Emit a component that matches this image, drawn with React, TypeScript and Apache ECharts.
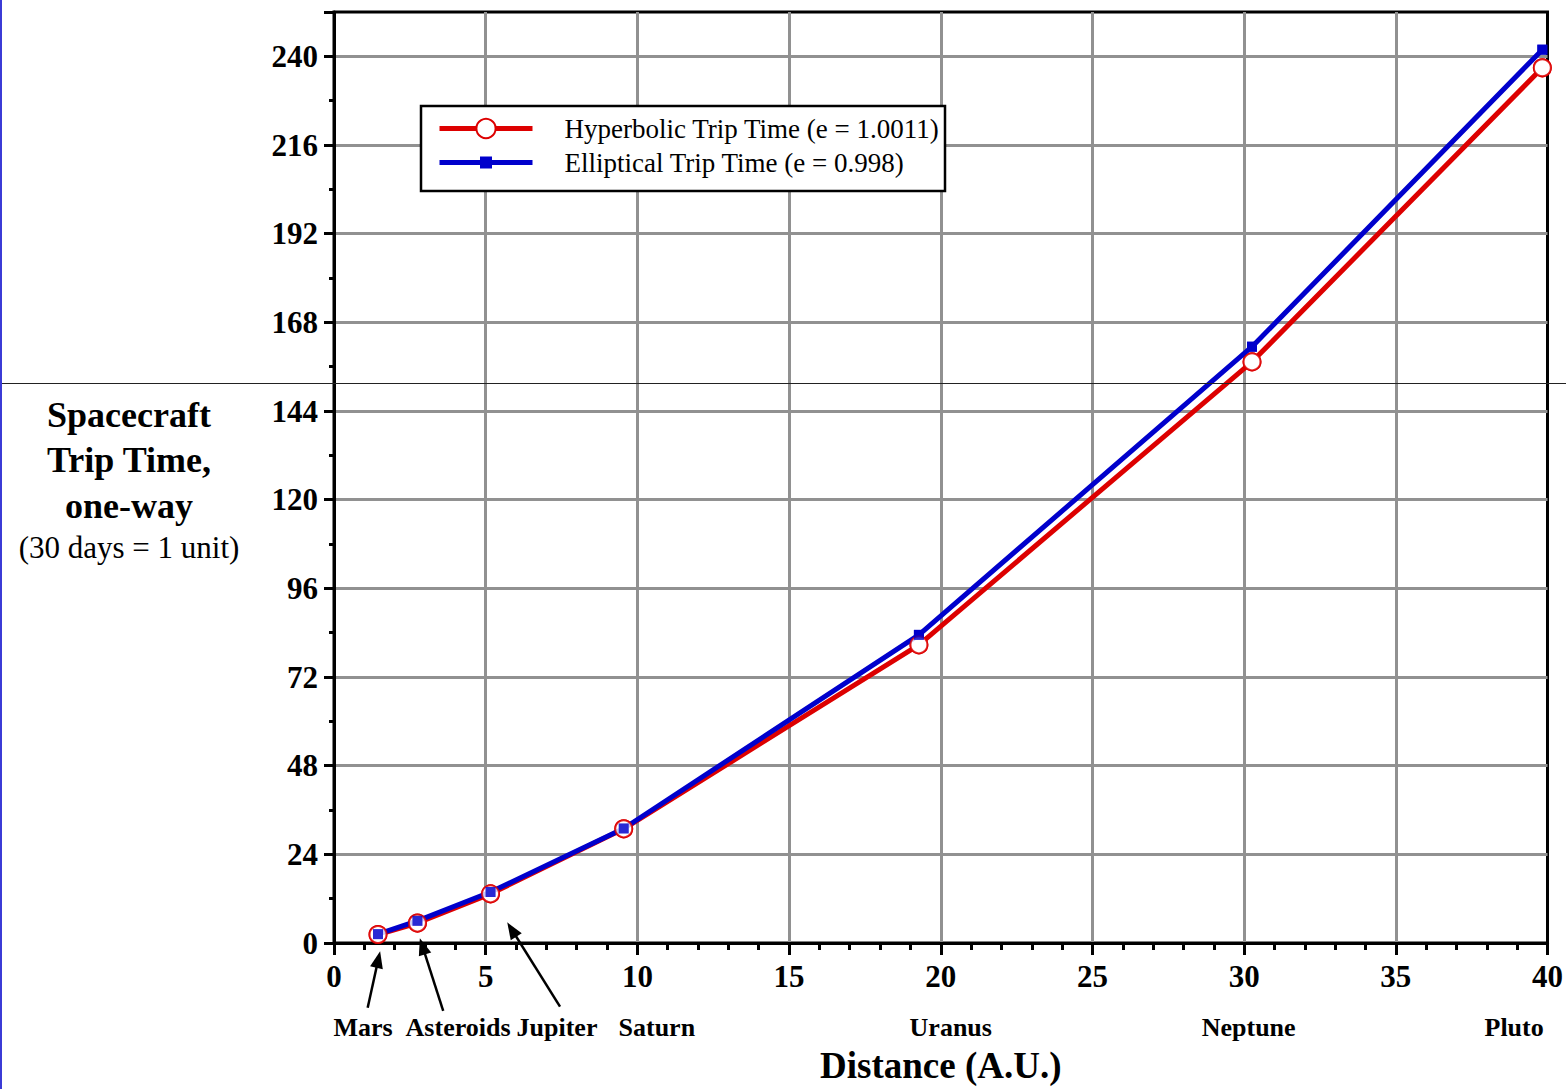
import React, { useEffect, useRef } from "react";
import * as echarts from "echarts";

// ---- data ----
const planets = ["Mars", "Asteroids", "Jupiter", "Saturn", "Uranus", "Neptune", "Pluto"];
const distanceAU = [1.45, 2.75, 5.16, 9.55, 19.28, 30.26, 39.83];
const hyperbolicTrip = [2.3, 5.4, 13.3, 30.9, 80.7, 157.3, 236.9];
const ellipticalTrip = [2.4, 6.0, 13.8, 31.0, 83.4, 161.4, 241.8];
const seriesNames = ["Hyperbolic Trip Time (e = 1.0011)", "Elliptical Trip Time (e = 0.998)"];

// axis settings
const xMin = 0;
const xMax = 40;
const xInterval = 5;
const yMin = 0;
const yMax = 252;
const yInterval = 24;
const yMinorInterval = 12;
const yLabelMax = 240;

// annotations (data coordinates)
const planetLabelX = [0.96, 4.09, 7.35, 10.64, 20.33, 30.15, 38.9];
const arrowTails = [[1.11, -17.5], [3.6, -18.4], [7.45, -17.2]];
const arrowTips = [[1.52, -2.2], [2.83, 1.3], [5.71, 5.6]];

const yTitleLines = ["Spacecraft", "Trip Time,", "one-way"];
const yTitleNote = "(30 days = 1 unit)";
const xTitle = "Distance (A.U.)";

const RED = "#dd0000";
const BLUE = "#0000cc";
const GRID_GRAY = "#919191";
const FONT = "'Liberation Serif', 'Times New Roman', serif";

export default function App() {
  const ref = useRef<HTMLDivElement>(null);

  useEffect(() => {
    document.body.style.margin = "0";
    const chart = echarts.init(ref.current as HTMLDivElement, null, { renderer: "svg" });

    const hypData = distanceAU.map((x, i) => [x, hyperbolicTrip[i]]);
    const ellData = distanceAU.map((x, i) => [x, ellipticalTrip[i]]);

    const legendText = { fontFamily: FONT, fontSize: 27, color: "#000", padding: [0, 0, 0, 27] };

    chart.setOption({
      animation: false,
      backgroundColor: "#fff",
      grid: {
        left: 334,
        right: 16,
        top: 12,
        bottom: 142,
        show: true,
        borderColor: "#000",
        borderWidth: 3,
        backgroundColor: "transparent",
      },
      legend: [
        {
          data: [seriesNames[0]],
          left: 437,
          top: 115,
          padding: 0,
          itemWidth: 93,
          itemHeight: 24,
          selectedMode: false,
          lineStyle: { width: 5 },
          textStyle: legendText,
        },
        {
          data: [seriesNames[1]],
          left: 437,
          top: 149,
          padding: 0,
          itemWidth: 93,
          itemHeight: 15,
          selectedMode: false,
          lineStyle: { width: 5 },
          textStyle: legendText,
        },
      ],
      xAxis: [
        {
          type: "value",
          min: xMin,
          max: xMax,
          interval: xInterval,
          axisLine: { show: true, onZero: false, lineStyle: { color: "#000", width: 3 } },
          axisTick: { show: true, length: 12, lineStyle: { color: "#000", width: 3 } },
          minorTick: { show: true, splitNumber: 5, length: 7, lineStyle: { color: "#000", width: 3 } },
          axisLabel: { fontFamily: FONT, fontWeight: "bold", fontSize: 31, color: "#000", margin: 18 },
          splitLine: {
            show: true,
            showMinLine: false,
            showMaxLine: false,
            lineStyle: { color: GRID_GRAY, width: 3 },
          },
          name: xTitle,
          nameLocation: "middle",
          nameGap: 104,
          nameTextStyle: { fontFamily: FONT, fontWeight: "bold", fontSize: 37, color: "#000" },
        },
      ],
      yAxis: [
        {
          type: "value",
          min: yMin,
          max: yMax,
          interval: yInterval,
          axisLine: { show: true, onZero: false, lineStyle: { color: "#000", width: 3 } },
          axisTick: { show: true, length: 10, lineStyle: { color: "#000", width: 3 } },
          axisLabel: {
            fontFamily: FONT,
            fontWeight: "bold",
            fontSize: 31,
            color: "#000",
            margin: 16,
            formatter: (v: number) => (v % yInterval === 0 && v <= yLabelMax ? String(v) : ""),
          },
          splitLine: {
            show: true,
            showMinLine: false,
            showMaxLine: false,
            lineStyle: { color: GRID_GRAY, width: 3 },
          },
        },
        {
          type: "value",
          min: yMin,
          max: yMax,
          interval: yMinorInterval,
          position: "left",
          axisLine: { show: false },
          axisTick: { show: true, length: 5, lineStyle: { color: "#000", width: 3 } },
          axisLabel: { show: false },
          splitLine: { show: false },
        },
      ],
      series: [
        {
          name: seriesNames[0],
          type: "line",
          data: hypData,
          symbol: "emptyCircle",
          symbolSize: 17,
          itemStyle: { color: RED, borderWidth: 3 },
          lineStyle: { color: RED, width: 5 },
          z: 2,
          clip: false,
        },
        {
          name: seriesNames[1],
          type: "line",
          data: ellData,
          symbol: "rect",
          symbolSize: 10,
          itemStyle: { color: BLUE },
          lineStyle: { color: BLUE, width: 5 },
          z: 3,
          clip: false,
        },
        {
          name: "hyperbolic-markers",
          type: "scatter",
          data: hypData,
          symbol: "emptyCircle",
          symbolSize: 17,
          itemStyle: { color: RED, borderWidth: 3 },
          z: 4,
          clip: false,
        },
        {
          name: "elliptical-markers",
          type: "scatter",
          data: ellData,
          symbol: "rect",
          symbolSize: 10,
          itemStyle: { color: BLUE },
          z: 5,
          clip: false,
        },
      ],
    });

    const toPx = (p: number[]) =>
      chart.convertToPixel({ xAxisIndex: 0, yAxisIndex: 0 }, p) as number[];

    const graphics: any[] = [];

    // legend box
    graphics.push({
      type: "rect",
      z: 1,
      shape: { x: 421, y: 106, width: 524, height: 85 },
      style: { fill: "#fff", stroke: "#000", lineWidth: 2.5 },
    });

    // y-axis title block
    const titleY = [415, 460, 506];
    yTitleLines.forEach((t, i) => {
      graphics.push({
        type: "text",
        z: 5,
        x: 129,
        y: titleY[i],
        style: {
          text: t,
          fontFamily: FONT,
          fontWeight: "bold",
          fontSize: 36,
          fill: "#000",
          align: "center",
          verticalAlign: "middle",
        },
      });
    });
    graphics.push({
      type: "text",
      z: 5,
      x: 129,
      y: 547,
      style: {
        text: yTitleNote,
        fontFamily: FONT,
        fontSize: 31,
        fill: "#000",
        align: "center",
        verticalAlign: "middle",
      },
    });

    // planet labels
    const axisY = toPx([0, 0])[1];
    planets.forEach((p, i) => {
      const px = toPx([planetLabelX[i], 0]);
      graphics.push({
        type: "text",
        z: 5,
        x: px[0],
        y: axisY + 84,
        style: {
          text: p,
          fontFamily: FONT,
          fontWeight: "bold",
          fontSize: 26,
          fill: "#000",
          align: "center",
          verticalAlign: "middle",
        },
      });
    });

    // arrows
    arrowTails.forEach((tail, i) => {
      const a = toPx(tail);
      const b = toPx(arrowTips[i]);
      const dx = b[0] - a[0];
      const dy = b[1] - a[1];
      const len = Math.sqrt(dx * dx + dy * dy);
      const ux = dx / len;
      const uy = dy / len;
      const headLen = 17;
      const headHalf = 6.5;
      const bx = b[0] - ux * headLen;
      const by = b[1] - uy * headLen;
      graphics.push({
        type: "line",
        z: 6,
        shape: { x1: a[0], y1: a[1], x2: bx + ux * 2, y2: by + uy * 2 },
        style: { stroke: "#000", lineWidth: 2.5 },
      });
      graphics.push({
        type: "polygon",
        z: 6,
        shape: {
          points: [
            [b[0], b[1]],
            [bx - uy * headHalf, by + ux * headHalf],
            [bx + uy * headHalf, by - ux * headHalf],
          ],
        },
        style: { fill: "#000" },
      });
    });

    // page artifacts: thin horizontal rule and blue left edge
    graphics.push({
      type: "line",
      z: 20,
      shape: { x1: 0, y1: 383.5, x2: 1566, y2: 383.5 },
      style: { stroke: "#222", lineWidth: 1 },
    });
    graphics.push({
      type: "rect",
      z: 20,
      shape: { x: 0, y: 0, width: 2, height: 1089 },
      style: { fill: "#3b3bd6" },
    });

    chart.setOption({ graphic: graphics });

    return () => {
      chart.dispose();
    };
  }, []);

  return <div ref={ref} style={{ width: 1566, height: 1089 }} />;
}
